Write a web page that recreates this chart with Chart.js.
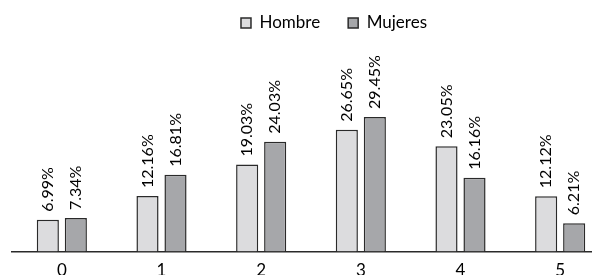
<!DOCTYPE html>
<html>
<head>
<meta charset="utf-8">
<script src="https://cdn.jsdelivr.net/npm/chart.js@4.4.1/dist/chart.umd.min.js"></script>
<style>
  html, body { margin: 0; padding: 0; background: #fff; overflow: hidden; width: 592px; height: 275px; }
  canvas { display: block; }
</style>
</head>
<body>
<canvas id="c" width="610" height="290" style="width:610px;height:290px"></canvas>
<script>
const categories = ['0', '1', '2', '3', '4', '5'];
const seriesNames = ['Hombre', 'Mujeres'];
const hombre = [6.99, 12.16, 19.03, 26.65, 23.05, 12.12];
const mujeres = [7.34, 16.81, 24.03, 29.45, 16.16, 6.21];

const FONT = 'Lato, "DejaVu Sans", sans-serif';

const valueLabels = {
  id: 'valueLabels',
  afterDatasetsDraw(chart) {
    const ctx = chart.ctx;
    ctx.save();
    ctx.font = '16px ' + FONT;
    ctx.fillStyle = '#000';
    ctx.textAlign = 'left';
    ctx.textBaseline = 'middle';
    chart.data.datasets.forEach((ds, di) => {
      const meta = chart.getDatasetMeta(di);
      meta.data.forEach((bar, i) => {
        ctx.save();
        ctx.translate(bar.x, bar.y - 8);
        ctx.rotate(-Math.PI / 2);
        ctx.fillText(ds.data[i].toFixed(2) + '%', 0, 0);
        ctx.restore();
      });
    });
    ctx.restore();
  }
};

const legendShift = {
  id: 'legendShift',
  afterLayout(chart) {
    const lg = chart.legend;
    if (!lg) return;
    const dx = 23, dy = -13.5;
    lg.left += dx; lg.right += dx;
    lg.top += dy; lg.bottom += dy;
  }
};

new Chart(document.getElementById('c'), {
  type: 'bar',
  data: {
    labels: categories,
    datasets: [
      { label: seriesNames[0], data: hombre, backgroundColor: '#dcdcde', borderColor: '#2a2a2a', borderWidth: 1.5 },
      { label: seriesNames[1], data: mujeres, backgroundColor: '#a6a7aa', borderColor: '#2a2a2a', borderWidth: 1.5 }
    ]
  },
  options: {
    responsive: false,
    animation: false,
    devicePixelRatio: 1,
    layout: { padding: { left: 12, right: 0, top: 0, bottom: 0 } },
    datasets: { bar: { categoryPercentage: 0.562, barPercentage: 0.79 } },
    plugins: {
      legend: {
        position: 'top',
        labels: {
          boxWidth: 10, boxHeight: 10, padding: 28,
          color: '#000',
          font: { family: FONT, size: 17 }
        }
      },
      tooltip: { enabled: false }
    },
    scales: {
      x: {
        grid: { display: false, drawTicks: false },
        border: { display: true, color: '#2a2a2a', width: 1.5 },
        ticks: { color: '#000', padding: 9, font: { family: FONT, size: 17 } }
      },
      y: {
        display: false,
        min: 0,
        max: 43.0
      }
    }
  },
  plugins: [valueLabels, legendShift]
});
</script>
</body>
</html>
